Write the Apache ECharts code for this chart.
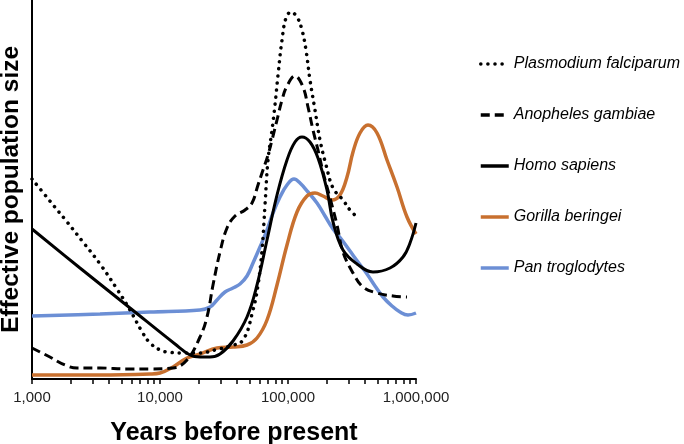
<!DOCTYPE html>
<html>
<head>
<meta charset="utf-8">
<script src="https://cdn.jsdelivr.net/npm/echarts@6/dist/echarts.min.js"></script>
<style>
html,body{margin:0;padding:0;background:#fff;}
#chart{width:684px;height:444px;}
</style>
</head>
<body>
<div id="chart"></div>
<script>
// Years before present (x) and relative effective population size (y, arbitrary units)
const seriesNames = ['Plasmodium falciparum', 'Anopheles gambiae', 'Homo sapiens', 'Gorilla beringei', 'Pan troglodytes'];

const plasmodium = [
  [1000,200],[1380,178],[1880,157],[2500,137],[3400,115],[4610,90],[5830,69],[7260,47],
  [8350,36],[10000,29],[11340,27],[15120,26],[20540,26],[26900,29],[35230,33],[44510,39],[53290,69],[58300,94],
  [62660,129],[66120,174],[69800,219],[75000,249],[79140,274],[83550,304],[89800,339],
  [96460,361],[105500,367],[117600,362],[128600,349],[138200,329],[148500,299],[162500,269],
  [177800,239],[198200,214],[224800,191],[268900,179],[305100,169],[352400,161]
];

const anopheles = [
  [1000,31],[1380,22],[1810,14],[2250,11],[3400,11],[5520,10],[8350,10],[12640,11],
  [16250,19],[20540,42],[23290,62],[25950,94],[29430,127],[33380,151],[38550,163],
  [46140,169],[52330,176],[58300,194],[63780,209],[69800,224],[75000,239],[82060,259],
  [89800,279],[98210,293],[113400,303],[131000,292],[143300,272],[156800,249],[171500,229],
  [187700,207],[212900,181],[241500,154],[268900,127],[322000,106],[385400,92],
  [495800,86],[661200,83],[850400,82]
];

const homo = [
  [1000,150],[2370,111],[5830,71],[13100,35],[17150,24],[20540,22],[24580,22],[29430,25],
  [37190,38],[47830,62],[57260,94],[68550,139],[82060,184],[98210,219],[113400,237],
  [128600,242],[148500,237],[171500,221],[201700,189],[224800,157],[268900,129],
  [346100,115],[461400,107],[626600,111],[791300,122],[897900,136],[1000000,156]
];

const gorilla = [
  [1000,4],[3400,4],[8350,5],[10000,6],[12640,12],[16250,21],[20540,25],[27880,31],
  [37190,32],[47830,34],[57260,41],[68550,59],[82060,94],[98210,134],[117600,167],
  [140700,183],[162500,186],[187700,183],[220800,179],[254800,184],[289100,202],
  [322000,227],[365200,246],[421700,254],[495800,246],[593600,219],[710600,192],
  [850400,162],[1000000,145]
];

const pan = [
  [1000,63],[3400,65],[8350,67],[20540,69],[24580,72],[27880,79],[32200,87],[37190,91],
  [42170,95],[47830,103],[53290,116],[60430,132],[68550,149],[76350,166],[86600,182],
  [98210,194],[111400,200],[124100,196],[143300,187],[168500,176],[194600,163],
  [224800,150],[264100,139],[305100,128],[352400,117],[414300,105],[478300,93],
  [552300,82],[649400,73],[749900,67],[865900,64],[1000000,66]
];

const majorTicks = [1000, 10000, 100000, 1000000];
const allTicks = [1000,2000,3000,4000,5000,6000,7000,8000,9000,
  10000,20000,30000,40000,50000,60000,70000,80000,90000,
  100000,200000,300000,400000,500000,600000,700000,800000,900000,1000000];

const colors = ['#000000', '#000000', '#000000', '#C8702F', '#6C8FD5'];
const lineTypes = [[0.1, 7], [9, 5], 'solid', 'solid', 'solid'];
const lineWidths = [3.5, 3, 3, 3.5, 3.5];
const datasets = [plasmodium, anopheles, homo, gorilla, pan];

function fmt(v) {
  return String(Math.round(v)).replace(/\B(?=(\d{3})+(?!\d))/g, ',');
}

const chart = echarts.init(document.getElementById('chart'), null, {renderer: 'canvas'});
chart.setOption({
  animation: false,
  backgroundColor: '#ffffff',
  grid: {left: 32, right: 268, top: 0, bottom: 65, containLabel: false, outerBoundsMode: 'none'},
  legend: {
    orient: 'vertical',
    left: 479,
    top: 56,
    padding: 0,
    itemWidth: 28,
    itemHeight: 14,
    itemGap: 35,
    data: seriesNames,
    itemStyle: {opacity: 0},
    lineStyle: {width: 3.5},
    textStyle: {fontFamily: 'Liberation Sans, Arial, sans-serif', fontStyle: 'italic', fontSize: 16, color: '#000'}
  },
  xAxis: {
    type: 'log',
    logBase: 10,
    min: 1000,
    max: 1000000,
    name: 'Years before present',
    nameLocation: 'middle',
    nameGap: 42,
    nameTextStyle: {fontFamily: 'Liberation Sans, Arial, sans-serif', fontWeight: 'bold', fontSize: 25, color: '#000', padding: [0, 0, 0, 20]},
    axisLine: {show: true, lineStyle: {color: '#000', width: 2}},
    axisTick: {show: true, length: 5, inside: false, lineStyle: {color: '#000', width: 1.5}, customValues: allTicks},
    minorTick: {show: false},
    splitLine: {show: false},
    axisLabel: {
      margin: 11,
      fontFamily: 'Liberation Sans, Arial, sans-serif',
      fontSize: 15,
      color: '#222',
      customValues: majorTicks,
      formatter: fmt
    }
  },
  yAxis: {
    type: 'value',
    min: 0,
    max: 379,
    name: 'Effective population size',
    nameLocation: 'middle',
    nameGap: 8,
    nameTextStyle: {fontFamily: 'Liberation Sans, Arial, sans-serif', fontWeight: 'bold', fontSize: 24.5, color: '#000'},
    axisLine: {show: true, lineStyle: {color: '#000', width: 2}},
    axisTick: {show: false},
    axisLabel: {show: false},
    splitLine: {show: false}
  },
  series: datasets.map(function (d, i) {
    return {
      name: seriesNames[i],
      type: 'line',
      data: d,
      smooth: 0.4,
      showSymbol: false,
      symbol: 'none',
      color: colors[i],
      lineStyle: {
        color: colors[i],
        width: lineWidths[i],
        type: lineTypes[i],
        cap: i === 0 ? 'round' : 'butt'
      },
      z: 10 - i
    };
  })
});
</script>
</body>
</html>
